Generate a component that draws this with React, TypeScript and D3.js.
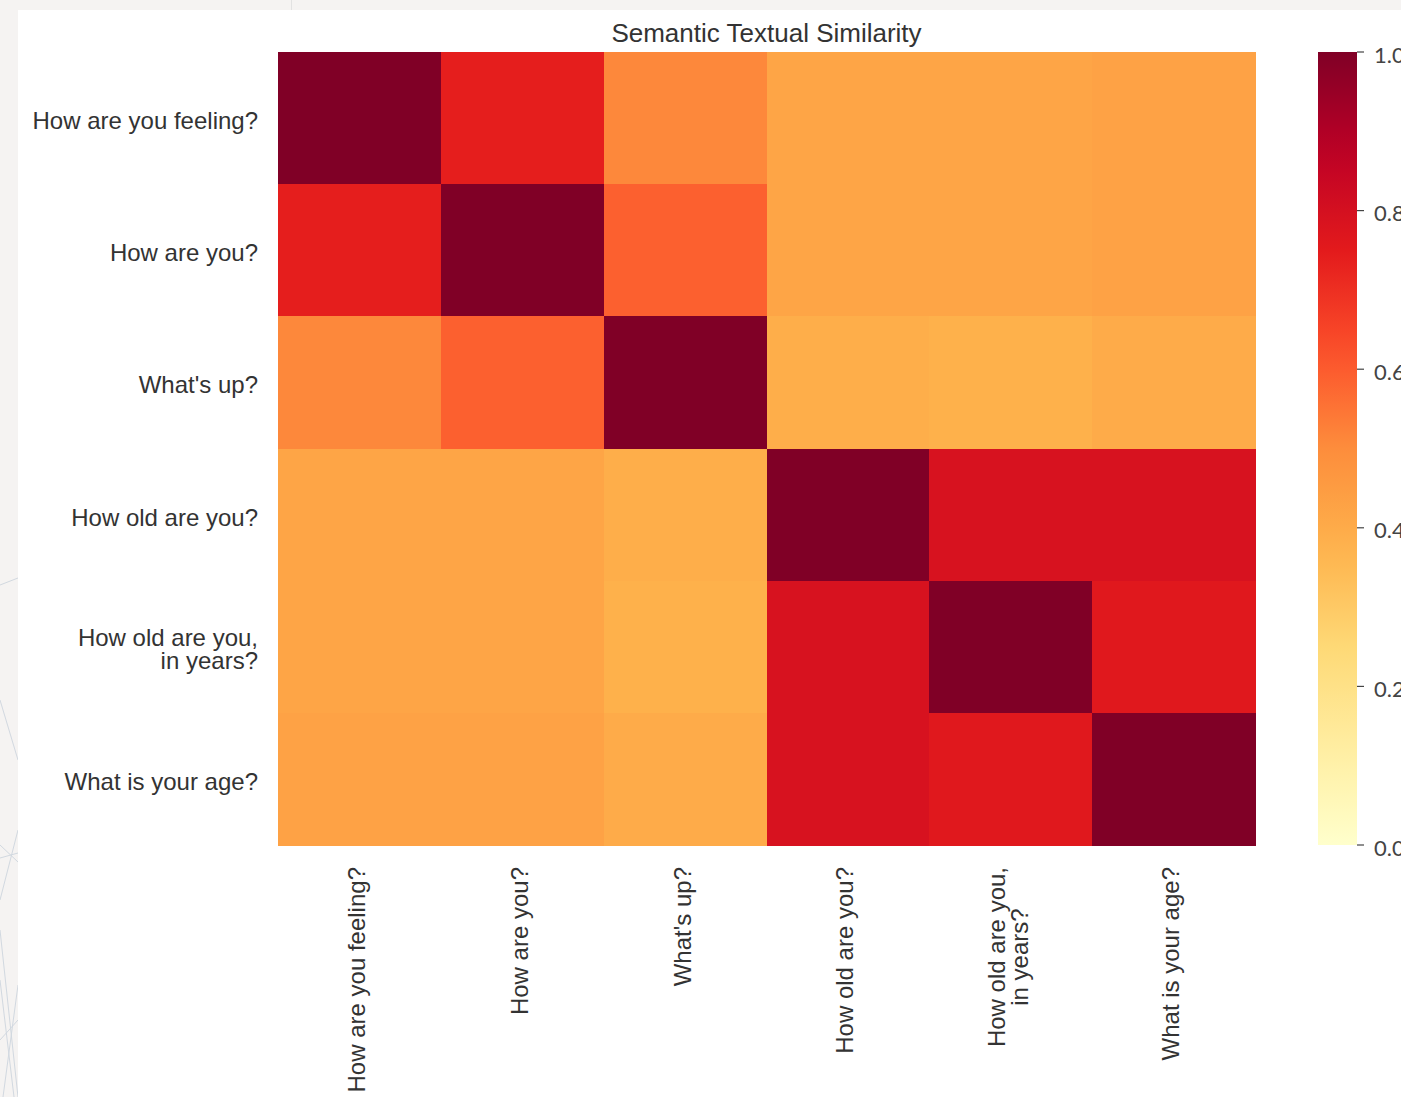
import React from "react";
import * as d3 from "d3";

// Sentence labels (rows and columns share the same order)
const sentences: string[] = [
  "How are you feeling?",
  "How are you?",
  "What's up?",
  "How old are you?",
  "How old are you,\nin years?",
  "What is your age?",
];

// Pairwise similarity scores, one array per row
const rowFeeling = [1.0, 0.74, 0.51, 0.42, 0.42, 0.43];
const rowHowAreYou = [0.74, 1.0, 0.59, 0.42, 0.42, 0.43];
const rowWhatsUp = [0.51, 0.59, 1.0, 0.39, 0.38, 0.4];
const rowHowOld = [0.42, 0.42, 0.39, 1.0, 0.79, 0.79];
const rowHowOldYears = [0.42, 0.42, 0.38, 0.79, 1.0, 0.76];
const rowAge = [0.43, 0.43, 0.4, 0.79, 0.76, 1.0];
const similarity: number[][] = [rowFeeling, rowHowAreYou, rowWhatsUp, rowHowOld, rowHowOldYears, rowAge];

const chartTitle = "Semantic Textual Similarity";
const colorbarTicks = [0, 0.2, 0.4, 0.6, 0.8, 1.0];

// YlOrRd ColorBrewer anchors, linearly interpolated
const ylOrRd = ["#ffffcc", "#ffeda0", "#fed976", "#feb24c", "#fd8d3c", "#fc4e2a", "#e31a1c", "#bd0026", "#800026"];

const W = 1401;
const H = 1097;
const FONT = "'Liberation Sans', Arial, sans-serif";
const LABEL_SIZE = 24;

function measure(text: string, font: string): number {
  const c = document.createElement("canvas").getContext("2d");
  if (!c) return text.length * 11;
  c.font = font;
  return c.measureText(text).width;
}

export default function App() {
  const left = 278;
  const right = 1255;
  const top = 52;
  const bottom = 845;

  const ids = sentences.map((_, i) => String(i));
  const x = d3.scaleBand<string>().domain(ids).range([left, right]).padding(0);
  const y = d3.scaleBand<string>().domain(ids).range([top, bottom]).padding(0);
  const color = d3
    .scaleLinear<string>()
    .domain(ylOrRd.map((_, i) => i / (ylOrRd.length - 1)))
    .range(ylOrRd)
    .interpolate(d3.interpolateRgb)
    .clamp(true);

  const cbX = 1318;
  const cbW = 39;
  const cbScale = d3.scaleLinear().domain([0, 1]).range([bottom, top]);
  const gradStops = d3.range(0, 1.0001, 0.05);

  const labelFont = `${LABEL_SIZE}px 'Liberation Sans'`;
  const lineGap = 23;

  // faint decorative lines in the page margin
  const bgLines: [number, number, number, number][] = [
    [0, 585, 18, 578],
    [0, 700, 18, 760],
    [0, 845, 18, 862],
    [0, 858, 18, 853],
    [0, 900, 18, 830],
    [0, 930, 18, 1097],
    [3, 1097, 18, 985],
    [0, 1040, 18, 1020],
    [0, 980, 14, 1097],
  ];

  return (
    <svg
      width={W}
      height={H}
      style={{ position: "absolute", left: 0, top: 0, display: "block" }}
      fontFamily={FONT}
    >
      <defs>
        <linearGradient id="cbGrad" x1="0" y1="1" x2="0" y2="0">
          {gradStops.map((t) => (
            <stop key={t} offset={t} stopColor={color(t)} />
          ))}
        </linearGradient>
        <clipPath id="marginClip">
          <rect x={0} y={0} width={18} height={H} />
        </clipPath>
      </defs>

      {/* page and card */}
      <rect x={0} y={0} width={W} height={H} fill="#f5f3f2" />
      <g clipPath="url(#marginClip)" stroke="#c9d2dc" strokeWidth={1} opacity={0.8}>
        {bgLines.map((l, i) => (
          <line key={i} x1={l[0]} y1={l[1]} x2={l[2]} y2={l[3]} />
        ))}
      </g>
      <line x1={291.5} y1={0} x2={291.5} y2={10} stroke="#e2e2e2" />
      <rect x={18} y={10} width={W - 18} height={H - 10} fill="#ffffff" />

      {/* title */}
      <text x={(left + right) / 2} y={42} textAnchor="middle" fontSize={26} fill="#333">
        {chartTitle}
      </text>

      {/* heatmap cells */}
      <g shapeRendering="crispEdges">
        {similarity.map((row, r) =>
          row.map((v, c) => (
            <rect
              key={`${r}-${c}`}
              x={x(String(c))}
              y={y(String(r))}
              width={x.bandwidth() + 0.5}
              height={y.bandwidth() + 0.5}
              fill={color(v)}
            />
          ))
        )}
      </g>

      {/* row labels */}
      <g fontSize={LABEL_SIZE} fill="#333" textAnchor="end">
        {sentences.map((s, i) => {
          const lines = s.split("\n");
          const cy = (y(String(i)) as number) + y.bandwidth() / 2;
          const y0 = cy - ((lines.length - 1) * lineGap) / 2;
          return (
            <text key={i} x={258} dominantBaseline="central">
              {lines.map((ln, k) => (
                <tspan key={k} x={258} y={y0 + k * lineGap + 2}>
                  {ln}
                </tspan>
              ))}
            </text>
          );
        })}
      </g>

      {/* column labels, rotated */}
      <g fontSize={LABEL_SIZE} fill="#333" textAnchor="middle">
        {sentences.map((s, i) => {
          const lines = s.split("\n");
          const block = Math.max(...lines.map((ln) => measure(ln, labelFont)));
          const cx = (x(String(i)) as number) + x.bandwidth() / 2 - 3;
          const ty = 867 + block / 2;
          const x0 = cx - ((lines.length - 1) * lineGap) / 2;
          return (
            <g key={i}>
              {lines.map((ln, k) => (
                <text
                  key={k}
                  transform={`translate(${x0 + k * lineGap},${ty}) rotate(-90)`}
                  dominantBaseline="central"
                >
                  {ln}
                </text>
              ))}
            </g>
          );
        })}
      </g>

      {/* colorbar */}
      <rect x={cbX} y={top} width={cbW} height={bottom - top} fill="url(#cbGrad)" />
      <g fontSize={22} fill="#444" fontFamily="Lato, 'Open Sans', sans-serif">
        {colorbarTicks.map((t) => (
          <g key={t} transform={`translate(0,${cbScale(t)})`}>
            <line x1={cbX + cbW} x2={cbX + cbW + 7} stroke="#444" strokeWidth={1.2} />
            <text x={cbX + cbW + 17} dominantBaseline="central" dy={2}>
              {d3.format(".1f")(t)}
            </text>
          </g>
        ))}
      </g>
    </svg>
  );
}
